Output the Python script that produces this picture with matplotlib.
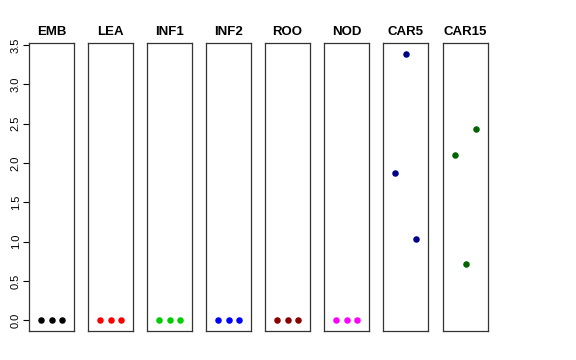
import matplotlib
matplotlib.use('Agg')
import matplotlib.pyplot as plt

plt.rcParams['font.family'] = ['Liberation Sans', 'DejaVu Sans']

# samples and values
groups = ['EMB', 'LEA', 'INF1', 'INF2', 'ROO', 'NOD', 'CAR5', 'CAR15']
colors = ['#000000', '#FF0000', '#00CD00', '#0000FF', '#8B0000', '#FF00FF', '#00008B', '#006400']
reps = [1, 2, 3]
values = [
    [0, 0, 0],
    [0, 0, 0],
    [0, 0, 0],
    [0, 0, 0],
    [0, 0, 0],
    [0, 0, 0],
    [1.87, 3.38, 1.03],
    [2.10, 0.72, 2.43],
]
yticks = [0.0, 0.5, 1.0, 1.5, 2.0, 2.5, 3.0, 3.5]

W, H = 576, 360
fig = plt.figure(figsize=(5.76, 3.6), dpi=100)

lefts = [29, 88, 147, 206, 265, 324, 383, 443]
for i, g in enumerate(groups):
    ax = fig.add_axes([lefts[i] / W, 1 - 331 / H, 45 / W, 288 / H])
    ax.scatter(reps, values[i], s=22, color=colors[i], zorder=3, linewidths=0)
    ax.set_xlim(-0.16, 4.16)
    ax.set_ylim(-0.136, 3.526)
    ax.set_xticks([])
    ax.set_title(g, fontsize=9.5, fontweight='bold', pad=6)
    for s in ax.spines.values():
        s.set_linewidth(0.9)
        s.set_color('#333333')
    if i == 0:
        ax.set_yticks(yticks)
        ax.set_yticklabels(['%.1f' % t for t in yticks], rotation=90, va='center', fontsize=8)
        ax.tick_params(axis='y', length=4, width=0.8, pad=2)
    else:
        ax.set_yticks([])

fig.savefig('out.png', dpi=100)
